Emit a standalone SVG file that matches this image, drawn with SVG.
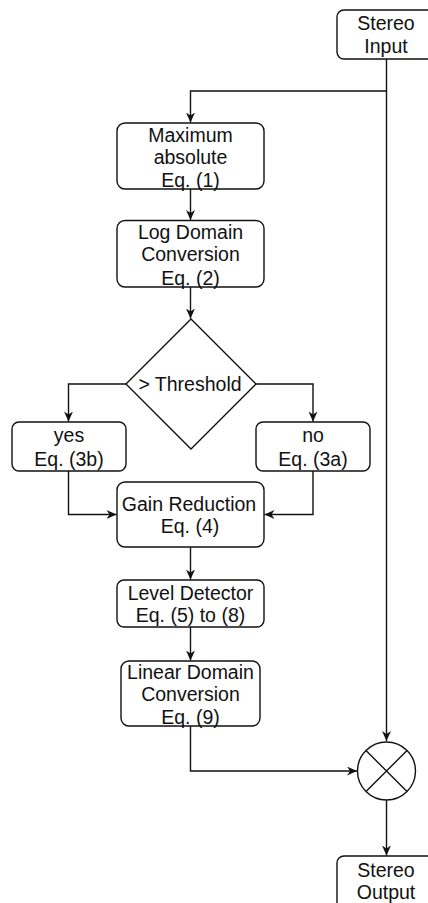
<svg xmlns="http://www.w3.org/2000/svg" width="428" height="903" viewBox="0 0 428 903">
<style>
.box{fill:#fff;stroke:#111;stroke-width:1.4}
.t{font-family:"Liberation Sans",Arial,sans-serif;font-size:19.5px;fill:#111;text-anchor:middle}
.c{fill:none;stroke:#111;stroke-width:1.4}
</style>
<defs>
<marker id="arr" markerUnits="userSpaceOnUse" markerWidth="12" markerHeight="10" refX="10" refY="4.5" orient="auto">
<path d="M0,0 L10,4.5 L0,9 L3,4.5 z" fill="#111"/>
</marker>
</defs>
<rect width="428" height="903" fill="#fff"/>
<g id="connectors">
<path class="c" d="M386.5 59 V741" marker-end="url(#arr)"/>
<path class="c" d="M386.5 91 H190.5 V122.5" marker-end="url(#arr)"/>
<path class="c" d="M190.5 189 V220" marker-end="url(#arr)"/>
<path class="c" d="M190.5 287 V318.5" marker-end="url(#arr)"/>
<path class="c" d="M126 384 H68.5 V421.5" marker-end="url(#arr)"/>
<path class="c" d="M256 384 H313 V421.5" marker-end="url(#arr)"/>
<path class="c" d="M68.5 471 V514.5 H116.5" marker-end="url(#arr)"/>
<path class="c" d="M313 471 V514.5 H264.5" marker-end="url(#arr)"/>
<path class="c" d="M190.5 547 V579.5" marker-end="url(#arr)"/>
<path class="c" d="M190.5 627 V660.5" marker-end="url(#arr)"/>
<path class="c" d="M190.5 726 V771 H357" marker-end="url(#arr)"/>
<path class="c" d="M386.5 800 V855.5" marker-end="url(#arr)"/>
</g>
<g id="stereo-input">
<rect class="box" x="337" y="10" width="100" height="49" rx="7"/>
<text class="t" x="386" y="30">Stereo</text>
<text class="t" x="386" y="53">Input</text>
</g>
<g id="max-abs">
<rect class="box" x="117" y="123" width="147" height="66" rx="8"/>
<text class="t" x="190.5" y="142">Maximum</text>
<text class="t" x="190.5" y="164">absolute</text>
<text class="t" x="190.5" y="187">Eq. (1)</text>
</g>
<g id="log-domain">
<rect class="box" x="117" y="220.5" width="147" height="66.5" rx="8"/>
<text class="t" x="190.5" y="239">Log Domain</text>
<text class="t" x="190.5" y="261">Conversion</text>
<text class="t" x="190.5" y="285">Eq. (2)</text>
</g>
<g id="threshold">
<path class="box" d="M191 319 L256 384 L191 449 L126 384 Z"/>
<text class="t" x="190" y="391">&gt; Threshold</text>
</g>
<g id="yes">
<rect class="box" x="12" y="422" width="114" height="49" rx="7"/>
<text class="t" x="69" y="442">yes</text>
<text class="t" x="69" y="466">Eq. (3b)</text>
</g>
<g id="no">
<rect class="box" x="256" y="422" width="114" height="49" rx="7"/>
<text class="t" x="313" y="442">no</text>
<text class="t" x="313" y="466">Eq. (3a)</text>
</g>
<g id="gain-reduction">
<rect class="box" x="117" y="482" width="147" height="65" rx="8"/>
<text class="t" x="189" y="511">Gain Reduction</text>
<text class="t" x="190" y="533">Eq. (4)</text>
</g>
<g id="level-detector">
<rect class="box" x="117" y="580" width="147" height="47" rx="7"/>
<text class="t" x="190.5" y="600">Level Detector</text>
<text class="t" x="190.5" y="622">Eq. (5) to (8)</text>
</g>
<g id="linear-domain">
<rect class="box" x="121" y="661" width="139" height="65" rx="8"/>
<text class="t" x="190.5" y="679">Linear Domain</text>
<text class="t" x="190.5" y="701">Conversion</text>
<text class="t" x="190.5" y="724">Eq. (9)</text>
</g>
<g id="multiplier">
<circle cx="386.5" cy="771" r="29" fill="#fff" stroke="#111" stroke-width="1.4"/>
<path d="M366 750.5 L407 791.5 M407 750.5 L366 791.5" stroke="#111" stroke-width="1.4" fill="none"/>
</g>
<g id="stereo-output">
<rect class="box" x="337" y="856" width="100" height="60" rx="7"/>
<text class="t" x="386" y="877">Stereo</text>
<text class="t" x="386" y="899">Output</text>
</g>
</svg>
